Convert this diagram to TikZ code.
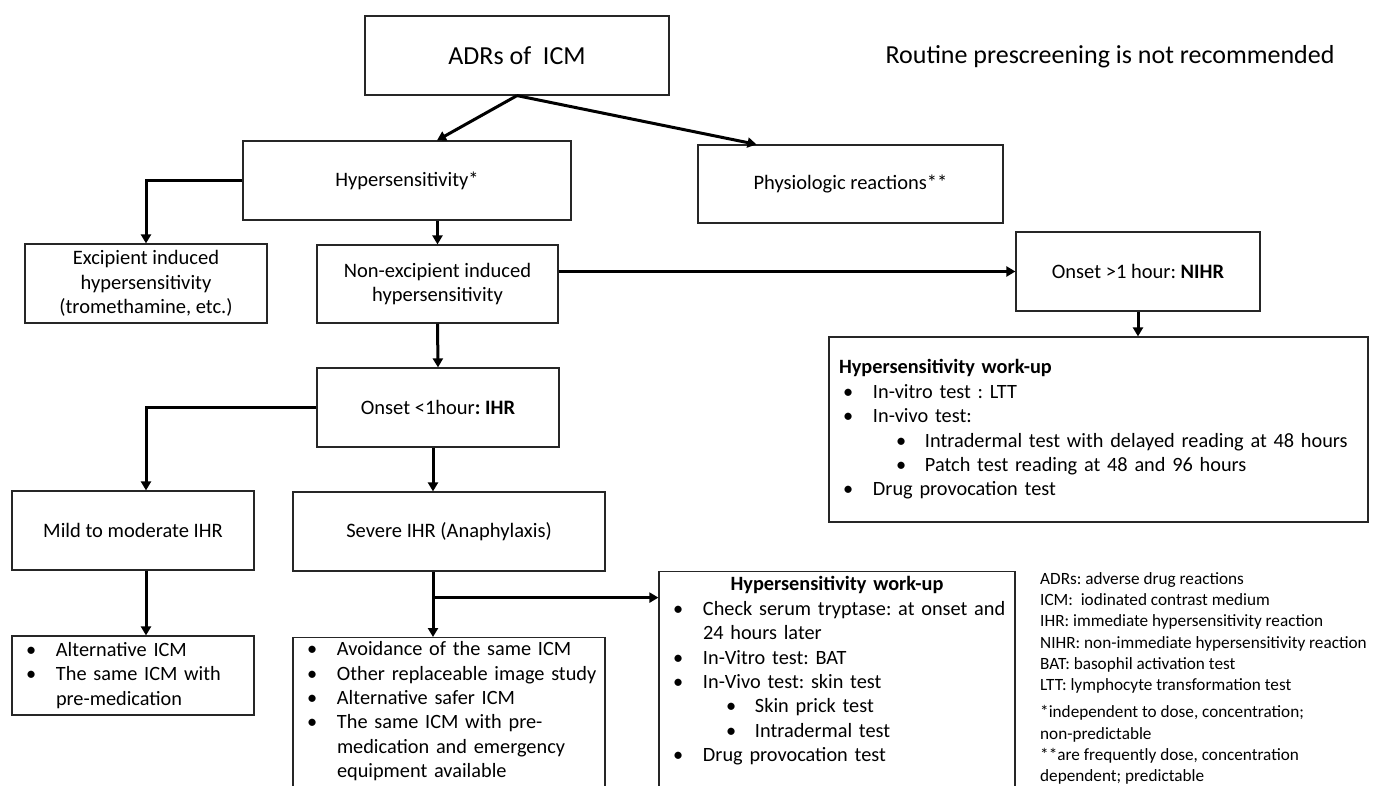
\documentclass[tikz,border=0pt]{standalone}
\usepackage{fontspec}
\setmainfont{Carlito}
\usetikzlibrary{arrows.meta}
\frenchspacing

\newcommand{\itm}[1]{\mbox{\makebox[30pt][l]{\textbullet}#1}}
\newcommand{\subitm}[1]{\mbox{\hspace*{53pt}\makebox[29pt][l]{\textbullet}#1}}
\newcommand{\cont}[1]{\mbox{\hspace*{30pt}#1}}

\tikzset{
caja/.style={draw=black!85,line width=1.2pt,rectangle,inner sep=0pt,align=center,font=\fontsize{20.5}{24.4}\selectfont},
lista/.style={caja,align=left,inner xsep=14pt,font=\fontsize{20.3}{24.4}\selectfont},
titulo/.style={inner sep=0pt,font=\fontsize{26}{30}\selectfont},
nota/.style={inner sep=0pt,align=left,font=\fontsize{17.2}{21.3}\selectfont},
flecha/.style={line width=3pt,-{Triangle[length=9pt,width=10pt]}}
}

\begin{document}
\begin{tikzpicture}[x=1pt,y=-1pt]
    \useasboundingbox (0,0) rectangle (1373,785);
    \clip (0,0) rectangle (1373,785);

    \node[caja,titulo,draw=black!85,minimum width=304pt,minimum height=79pt] (adr) at (517,55.5) {ADRs of~ ICM};
    \node[titulo] (routine) at (1110,57) {Routine prescreening is not recommended};

    \node[caja,minimum width=328pt,minimum height=79pt] (hyp) at (407,180.5) {Hypersensitivity*};
    \node[caja,minimum width=305pt,minimum height=78pt] (phys) at (850.5,184) {Physiologic reactions**};
    \node[caja,minimum width=242pt,minimum height=79pt] (excip) at (146,283.5) {Excipient induced\\hypersensitivity\\(tromethamine, etc.)};
    \node[caja,minimum width=241pt,minimum height=78pt] (nonex) at (437.5,284) {Non-excipient induced\\hypersensitivity};
    \node[caja,minimum width=244pt,minimum height=79pt] (late) at (1138,271.5) {Onset >1 hour: \textbf{NIHR}};
    \node[lista,text width=511pt,minimum height=185pt] (latework) at (1098.5,429.5) {%
        \hspace*{-4pt}\textbf{Hypersensitivity work-up}\\
        \itm{In-vitro test : LTT}\\
        \itm{In-vivo test:}\\
        \subitm{Intradermal test with delayed reading at 48 hours}\\
        \subitm{Patch test reading at 48 and 96 hours}\\
        \itm{Drug provocation test}};

    \node[caja,minimum width=242pt,minimum height=79pt] (early) at (438,407.5) {Onset <1hour\textbf{: IHR}};
    \node[caja,minimum width=242pt,minimum height=79pt] (mild) at (133,530.5) {Mild to moderate IHR};
    \node[caja,minimum width=312pt,minimum height=79pt] (severe) at (449,531.5) {Severe IHR (Anaphylaxis)};

    \node[lista,text width=214pt,minimum height=79pt] (alt) at (133,675.5) {%
        \itm{Alternative ICM}\\
        \itm{The same ICM with}\\
        \cont{pre-medication}};
    \node[lista,text width=284pt,anchor=north,inner ysep=4pt] (avoid) at (449,637) {%
        \itm{Avoidance of the same ICM}\\
        \itm{Other replaceable image study}\\
        \itm{Alternative safer ICM}\\
        \itm{The same ICM with pre-}\\
        \cont{medication and emergency}\\
        \cont{equipment available}\\
        ~};
    \node[lista,text width=328pt,anchor=north,inner ysep=5pt] (sevwork) at (837,571) {%
        \makebox[328pt][c]{\textbf{Hypersensitivity work-up}}\\
        \itm{Check serum tryptase: at onset and}\\
        \cont{24 hours later}\\
        \itm{In-Vitro test: BAT}\\
        \itm{In-Vivo test: skin test}\\
        \subitm{Skin prick test}\\
        \subitm{Intradermal test}\\
        \itm{Drug provocation test}\\
        ~};

    \node[nota,anchor=north west] (legend) at (1040,572) {%
        ADRs: adverse drug reactions\\
        ICM:~ iodinated contrast medium\\
        IHR: immediate hypersensitivity reaction\\
        NIHR: non-immediate hypersensitivity reaction\\
        BAT: basophil activation test\\
        LTT: lymphocyte transformation test\\[6pt]
        *independent to dose, concentration;\\
        non-predictable\\
        **are frequently dose, concentration\\
        dependent; predictable};

    \draw[flecha] (adr.south) -- ([xshift=30pt]hyp.north);
    \draw[flecha] (adr.south) -- ([xshift=-94pt]phys.north);
    \draw[flecha] (hyp.west) -| (excip.north);
    \draw[flecha] (nonex.north |- hyp.south) -- (nonex.north);
    \draw[flecha] (nonex.east |- late.west) -- (late.west);
    \draw[flecha] (late.south) -- (late.south |- latework.north);
    \draw[flecha] (nonex.south) -- (early.north);
    \draw[flecha] (early.west) -| ([xshift=13pt]mild.north);
    \draw[flecha] ([xshift=-5pt]early.south) -- ([xshift=-5pt]early.south |- severe.north);
    \draw[flecha] ([xshift=13pt]mild.south) -- ([xshift=13pt]alt.north);
    \draw[flecha] ([xshift=-16pt]severe.south) -- ([xshift=-16pt]severe.south |- avoid.north);
    \coordinate (split) at ([xshift=-16pt,yshift=-26pt]severe.south);
    \draw[flecha] (split) -- (split -| sevwork.west);
\end{tikzpicture}
\end{document}
